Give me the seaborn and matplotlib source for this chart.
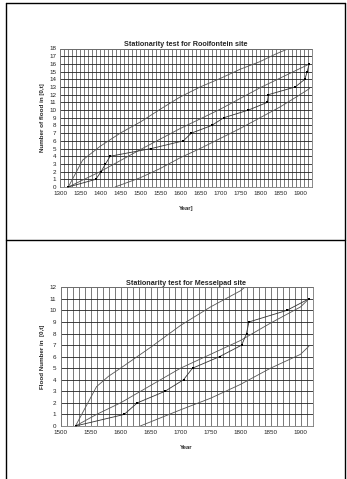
import numpy as np
import pandas as pd
import matplotlib
matplotlib.use("Agg")
import matplotlib.pyplot as plt
from matplotlib.lines import Line2D
import seaborn as sns

sns.set_style("white")
plt.rcParams['font.family'] = ['Liberation Sans', 'DejaVu Sans']

# ---- Rooifontein data ----
roo_obs_year = [1320, 1389, 1402, 1413, 1425, 1528, 1608, 1628, 1679, 1709, 1771, 1818, 1821, 1888, 1912, 1918, 1923]
roo_obs_n = [0, 1, 2, 3, 4, 5, 6, 7, 8, 9, 10, 11, 12, 13, 14, 15, 16]
roo_mean_year = [1320, 1400, 1500, 1600, 1700, 1800, 1900, 1924]
roo_mean_n = [0, 2.0, 4.85, 7.6, 10.1, 12.9, 15.4, 16.0]
roo_up_year = [1320, 1356, 1400, 1450, 1502, 1550, 1600, 1650, 1700, 1750, 1800, 1840, 1872]
roo_up_n = [0, 3.5, 5.3, 7.0, 8.5, 10.1, 11.7, 13.0, 14.1, 15.3, 16.3, 17.3, 18.0]
roo_lo_year = [1437, 1500, 1550, 1600, 1650, 1700, 1750, 1800, 1850, 1900, 1924]
roo_lo_n = [0, 1.2, 2.4, 3.8, 5.0, 6.3, 7.6, 9.0, 10.4, 12.0, 12.8]

# ---- Messelpad data ----
mes_obs_year = [1525, 1606, 1628, 1674, 1705, 1720, 1765, 1802, 1810, 1814, 1877, 1914]
mes_obs_n = [0, 1, 2, 3, 4, 5, 6, 7, 8, 9, 10, 11]
mes_mean_year = [1525, 1560, 1600, 1650, 1700, 1750, 1800, 1850, 1900, 1914]
mes_mean_n = [0, 1.0, 2.0, 3.5, 5.0, 6.2, 7.4, 8.9, 10.3, 11.0]
mes_up_year = [1525, 1560, 1580, 1600, 1650, 1700, 1750, 1800, 1807]
mes_up_n = [0, 3.4, 4.3, 5.0, 6.8, 8.7, 10.3, 11.7, 12.0]
mes_lo_year = [1633, 1700, 1750, 1800, 1850, 1900, 1914]
mes_lo_n = [0, 1.4, 2.4, 3.6, 5.0, 6.2, 6.9]

W, H = 347, 479
fig = plt.figure(figsize=(W / 100, H / 100), dpi=100)

# page frame lines
fig.add_artist(Line2D([6 / W, 6 / W], [0, 1 - 3 / H], color='black', lw=1.0, transform=fig.transFigure))
fig.add_artist(Line2D([345 / W, 345 / W], [0, 1 - 3 / H], color='black', lw=1.0, transform=fig.transFigure))
fig.add_artist(Line2D([6 / W, 345 / W], [1 - 3 / H, 1 - 3 / H], color='black', lw=1.0, transform=fig.transFigure))
fig.add_artist(Line2D([6 / W, 345 / W], [1 - 240 / H, 1 - 240 / H], color='black', lw=1.0, transform=fig.transFigure))

line_col = '#555555'
grid_col = '#444444'


def draw(ax, obs_y, obs_n, mean_y, mean_n, up_y, up_n, lo_y, lo_n, xmin, xmax, ymax, title, xlabel, ylabel):
    for yy, nn in [(mean_y, mean_n), (up_y, up_n), (lo_y, lo_n)]:
        df = pd.DataFrame({'year': yy, 'n': nn})
        sns.lineplot(data=df, x='year', y='n', ax=ax, color=line_col, lw=0.6,
                     estimator=None, sort=False, legend=False)
    df = pd.DataFrame({'year': obs_y, 'n': obs_n})
    sns.lineplot(data=df, x='year', y='n', ax=ax, color='#333333', lw=0.6,
                 estimator=None, sort=False, legend=False,
                 marker='s', markersize=1.8, markeredgewidth=0, markerfacecolor='black')
    ax.set_xlim(xmin, xmax)
    ax.set_ylim(0, ymax)
    ax.set_xticks(np.arange(xmin, 1901, 50))
    ax.set_xticks(np.arange(xmin, xmax + 1, 10), minor=True)
    ax.set_yticks(np.arange(0, ymax + 1, 1))
    ax.grid(True, which='both', axis='x', color=grid_col, lw=0.5)
    ax.grid(True, which='major', axis='y', color='#222222', lw=0.6)
    ax.set_axisbelow(True)
    ax.tick_params(axis='both', which='both', length=0, labelsize=4.5, colors='#222222', pad=3)
    for s in ax.spines.values():
        s.set_color('#777777')
        s.set_linewidth(0.6)
    ax.set_title(title, fontsize=5.2, fontweight='bold', pad=2)
    ax.set_xlabel(xlabel, fontsize=4.3, fontweight='bold', labelpad=7)
    ax.set_ylabel(ylabel, fontsize=4.5, fontweight='bold', labelpad=3)


ax1 = fig.add_axes([60.3 / W, 1 - 187 / H, (312 - 60.3) / W, (187 - 48.5) / H])
draw(ax1, roo_obs_year, roo_obs_n, roo_mean_year, roo_mean_n, roo_up_year, roo_up_n,
     roo_lo_year, roo_lo_n, 1300, 1930, 18,
     'Stationarity test for Rooifontein site', 'Year]', 'Number of flood in [0,t]')

ax2 = fig.add_axes([60.5 / W, 1 - 426 / H, (312.5 - 60.5) / W, (426 - 287.3) / H])
draw(ax2, mes_obs_year, mes_obs_n, mes_mean_year, mes_mean_n, mes_up_year, mes_up_n,
     mes_lo_year, mes_lo_n, 1500, 1920, 12,
     'Stationarity test for Messelpad site', 'Year', 'Flood Number in  [0,t]')

fig.savefig('out.png', dpi=100)
